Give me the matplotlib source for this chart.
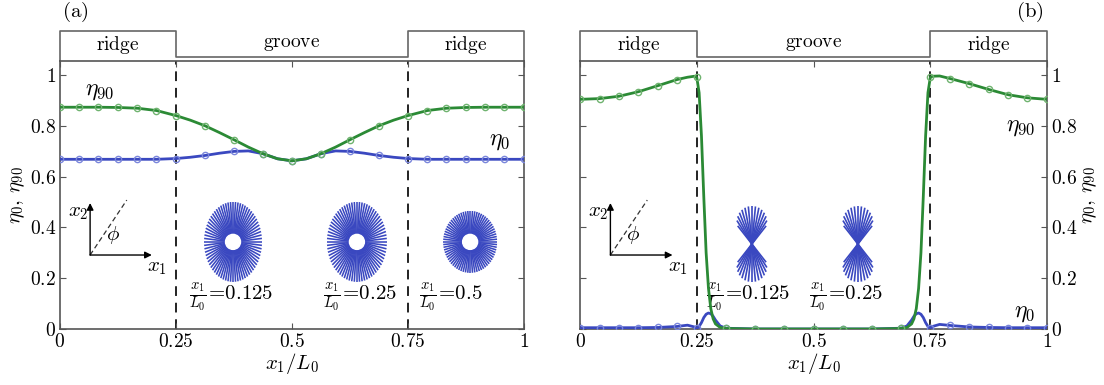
import numpy as np
import matplotlib
matplotlib.use('Agg')
import matplotlib.pyplot as plt
from matplotlib.collections import LineCollection

plt.rcParams['mathtext.fontset'] = 'cm'
plt.rcParams['font.family'] = 'serif'
plt.rcParams['font.serif'] = ['DejaVu Serif']

# ---- data, panel (a) ----
x_a = [0, 0.042, 0.083, 0.125, 0.167, 0.208, 0.25, 0.281, 0.3125, 0.344, 0.375,
       0.406, 0.4375, 0.469, 0.5, 0.531, 0.5625, 0.594, 0.625, 0.656, 0.6875,
       0.719, 0.75, 0.792, 0.833, 0.875, 0.917, 0.958, 1]
eta90_a = [0.873, 0.873, 0.873, 0.872, 0.869, 0.860, 0.840, 0.822, 0.800, 0.773,
           0.745, 0.716, 0.690, 0.670, 0.662, 0.670, 0.690, 0.716, 0.745, 0.773,
           0.800, 0.822, 0.840, 0.860, 0.869, 0.872, 0.873, 0.873, 0.873]
eta0_a = [0.668, 0.668, 0.668, 0.668, 0.668, 0.668, 0.671, 0.676, 0.683, 0.692,
          0.699, 0.701, 0.690, 0.670, 0.662, 0.670, 0.690, 0.701, 0.699, 0.692,
          0.683, 0.676, 0.671, 0.668, 0.668, 0.668, 0.668, 0.668, 0.668]
marks_a = [0, 1, 2, 3, 4, 5, 6, 8, 10, 12, 14, 16, 18, 20, 22, 23, 24, 25, 26, 27, 28]

# ---- data, panel (b) ----
x_b = [0, 0.042, 0.083, 0.125, 0.167, 0.208, 0.23, 0.245, 0.25, 0.255, 0.26, 0.265,
       0.27, 0.275, 0.28, 0.285, 0.29, 0.3, 0.3125, 0.375, 0.4375, 0.5, 0.5625,
       0.625, 0.6875, 0.7, 0.71, 0.715, 0.72, 0.725, 0.73, 0.735, 0.74, 0.745,
       0.75, 0.755, 0.77, 0.792, 0.833, 0.875, 0.917, 0.958, 1]
eta90_b = [0.904, 0.907, 0.916, 0.934, 0.958, 0.982, 0.991, 0.995, 0.990, 0.93,
           0.76, 0.52, 0.30, 0.16, 0.08, 0.04, 0.02, 0.006, 0.002, 0, 0, 0, 0, 0,
           0.002, 0.006, 0.02, 0.04, 0.08, 0.16, 0.30, 0.52, 0.76, 0.93, 0.99,
           0.995, 0.996, 0.986, 0.966, 0.943, 0.922, 0.910, 0.904]
eta0_b = [0.005, 0.005, 0.005, 0.005, 0.006, 0.010, 0.015, 0.008, 0.002, 0.010,
          0.025, 0.045, 0.058, 0.063, 0.060, 0.050, 0.035, 0.012, 0.003, 0, 0, 0,
          0, 0, 0.003, 0.012, 0.035, 0.050, 0.060, 0.063, 0.058, 0.045, 0.025,
          0.010, 0.002, 0.010, 0.018, 0.014, 0.008, 0.006, 0.005, 0.005, 0.005]
marks_b = [0, 1, 2, 3, 4, 5, 8, 18, 19, 20, 21, 22, 23, 24, 34, 37, 38, 39, 40, 41, 42]

ridge_edges = [0.25, 0.75]
xticks = [0, 0.25, 0.5, 0.75, 1]
xticklabels = ['0', '0.25', '0.5', '0.75', '1']
yticks = [0, 0.2, 0.4, 0.6, 0.8, 1]
yticklabels = ['0', '0.2', '0.4', '0.6', '0.8', '1']

# rose plots: (x1/L0 label, semi-axis x, semi-axis y) in px
roses_a = [('0.125', 29, 40), ('0.25', 30, 40), ('0.5', 27, 31)]
# fans: (label, cap centre height, cap radius, half angle in deg) in px
fans_b = [('0.125', 23, 15, 38), ('0.25', 23, 15, 38)]

green = '#2b8a35'
blue = '#3a48c0'
green_m = '#6fb36f'
blue_m = '#7a86db'
spine_c = '#555555'

fig = plt.figure(figsize=(11.04, 3.85), dpi=100)
ax1 = fig.add_axes([0.0543, 0.1455, 0.4203, 0.6961])
ax2 = fig.add_axes([0.5254, 0.1455, 0.4230, 0.6961])


def style(ax, right=False):
    ax.set_xlim(0, 1)
    ax.set_ylim(0, 1.055)
    ax.set_xticks(xticks)
    ax.set_xticklabels(['$%s$' % t for t in xticklabels])
    ax.set_yticks(yticks)
    ax.set_yticklabels(['$%s$' % t for t in yticklabels])
    ax.tick_params(direction='in', length=4, width=0.8, color=spine_c,
                   top=True, right=True, labelsize=14, pad=3)
    if right:
        ax.tick_params(labelleft=False, labelright=True)
        ax.yaxis.set_label_position('right')
    for s in ax.spines.values():
        s.set_color(spine_c)
        s.set_linewidth(1.2)
    ax.set_xlabel(r'$x_1/L_0$', fontsize=15, labelpad=0)
    ax.set_ylabel(r'$\eta_0,\,\eta_{90}$', fontsize=15, labelpad=2)
    for e in ridge_edges:
        ax.axvline(e, color='#222222', ls=(0, (5, 3.5)), lw=1.4, zorder=1)
    # ridge / groove profile above the axes
    tr = ax.get_xaxis_transform()
    ax.plot([0, 0, 0.25, 0.25, 0.75, 0.75, 1, 1],
            [1, 1.112, 1.112, 1.015, 1.015, 1.112, 1.112, 1],
            color='#666666', lw=1.2, transform=tr, clip_on=False)
    ax.text(0.125, 1.058, r'$\mathrm{ridge}$', transform=tr, ha='center', va='center', fontsize=14)
    ax.text(0.875, 1.058, r'$\mathrm{ridge}$', transform=tr, ha='center', va='center', fontsize=14)
    ax.text(0.5, 1.062, r'$\mathrm{groove}$', transform=tr, ha='center', va='center', fontsize=14)
    # coordinate sketch
    o = (0.065, 0.276)
    ap = dict(arrowstyle='-|>', color='black', lw=1.0, mutation_scale=10, shrinkA=0, shrinkB=0)
    ax.annotate('', xy=(0.065, 0.47), xytext=o, xycoords='axes fraction', arrowprops=ap)
    ax.annotate('', xy=(0.198, 0.276), xytext=o, xycoords='axes fraction', arrowprops=ap)
    ax.plot([o[0], 0.144], [o[1], 0.481], transform=ax.transAxes, color='#333333',
            ls=(0, (4, 2.5)), lw=0.9)
    ax.text(0.039, 0.433, r'$x_2$', transform=ax.transAxes, ha='center', va='center', fontsize=15)
    ax.text(0.114, 0.35, r'$\phi$', transform=ax.transAxes, ha='center', va='center', fontsize=15)
    ax.text(0.209, 0.228, r'$x_1$', transform=ax.transAxes, ha='center', va='center', fontsize=15)


def make_inset(ax, cx, cy, axw):
    w = 84.0 / axw
    h = 96.0 / 268
    ins = ax.inset_axes([cx - w / 2, cy - h / 2, w, h])
    ins.set_xlim(-42, 42)
    ins.set_ylim(-48, 48)
    ins.axis('off')
    return ins


def rose(ax, cx, cy, axw, a, b):
    ins = make_inset(ax, cx, cy, axw)
    segs = []
    for t in np.linspace(0, 2 * np.pi, 72, endpoint=False):
        segs.append([(7 * np.cos(t), 7 * np.sin(t)), (a * np.cos(t), b * np.sin(t))])
    ins.add_collection(LineCollection(segs, colors=blue, linewidths=1.15))
    ins.add_patch(plt.Circle((0, 0), 7.5, color='white', zorder=3))


def fan(ax, cx, cy, axw, c, r, half):
    ins = make_inset(ax, cx, cy, axw)
    segs = []
    for sgn in (1, -1):
        for p in np.deg2rad(np.linspace(-half, half, 15)):
            dc = c * np.cos(p)
            s = dc + np.sqrt(max(dc ** 2 - c ** 2 + r ** 2, 0))
            segs.append([(0, 0), (s * np.sin(p), sgn * s * np.cos(p))])
    ins.add_collection(LineCollection(segs, colors=blue, linewidths=1.2))


style(ax1)
style(ax2, right=True)

ax1.plot(x_a, eta0_a, color=blue, lw=2.0, marker='o', ms=4.5, mfc='none', mec=blue_m,
         mew=1.0, markevery=marks_a, zorder=3)
ax1.plot(x_a, eta90_a, color=green, lw=2.0, marker='o', ms=4.5, mfc='none', mec=green_m,
         mew=1.0, markevery=marks_a, zorder=4)
ax2.plot(x_b, eta0_b, color=blue, lw=2.0, marker='o', ms=4.5, mfc='none', mec=blue_m,
         mew=1.0, markevery=marks_b, zorder=3)
ax2.plot(x_b, eta90_b, color=green, lw=2.0, marker='o', ms=4.5, mfc='none', mec=green_m,
         mew=1.0, markevery=marks_b, zorder=4)

ax1.text(0.086, 0.89, r'$\eta_{90}$', transform=ax1.transAxes, ha='center', va='center', fontsize=17)
ax1.text(0.97, 0.705, r'$\eta_0$', transform=ax1.transAxes, ha='right', va='center', fontsize=17)
ax2.text(0.975, 0.754, r'$\eta_{90}$', transform=ax2.transAxes, ha='right', va='center', fontsize=17)
ax2.text(0.975, 0.063, r'$\eta_0$', transform=ax2.transAxes, ha='right', va='center', fontsize=17)

# rose plots with labels
for (lab, a, b), cx, tx in zip(roses_a, [0.373, 0.640, 0.884], [0.37, 0.647, 0.843]):
    rose(ax1, cx, 0.325, 464.0, a, b)
    ax1.text(tx, 0.12, r'$\frac{x_1}{L_0}\!=\!%s$' % lab, transform=ax1.transAxes,
             ha='center', va='center', fontsize=15)
for (lab, c, r, half), cx, tx in zip(fans_b, [0.368, 0.595], [0.36, 0.57]):
    fan(ax2, cx, 0.317, 467.0, c, r, half)
    ax2.text(tx, 0.12, r'$\frac{x_1}{L_0}\!=\!%s$' % lab, transform=ax2.transAxes,
             ha='center', va='center', fontsize=15)

fig.text(0.068, 0.968, r'$\mathrm{(a)}$', ha='center', va='center', fontsize=15)
fig.text(0.933, 0.968, r'$\mathrm{(b)}$', ha='center', va='center', fontsize=15)

fig.savefig('out.png', dpi=100)
